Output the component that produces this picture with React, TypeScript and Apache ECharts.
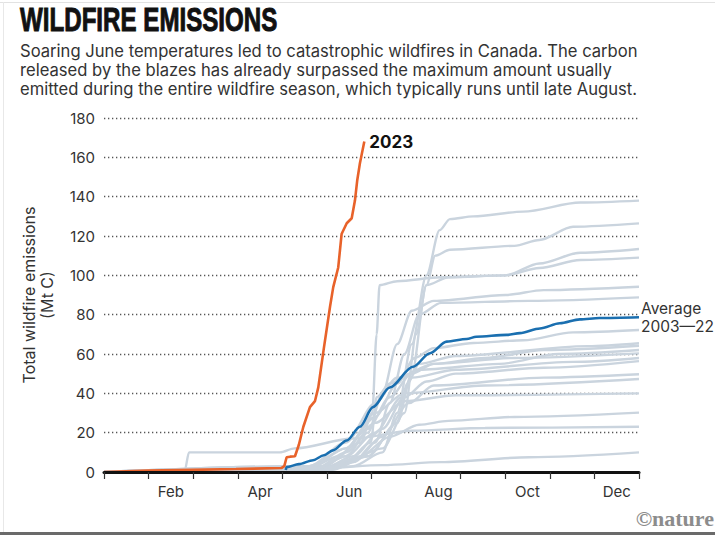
import React, { useEffect, useRef } from "react";
import * as echarts from "echarts";

const months = ["Jan", "Feb", "Mar", "Apr", "May", "Jun", "Jul", "Aug", "Sep", "Oct", "Nov", "Dec"];
const yTicks = { min: 0, max: 180, interval: 20 };

// [day of year, cumulative Mt C]
const year2023: number[][] = [
  [0, 0], [30, 0.7], [60, 1.1], [90, 1.5], [121, 2], [123, 3], [124.6, 7.5], [127, 7.8], [130.3, 8],
  [133, 14], [136, 23], [140.5, 33], [143.9, 36], [146.2, 43], [150, 63], [154.2, 84], [156.4, 94],
  [159.8, 104], [162.1, 121], [165.6, 126.5], [169, 129], [171.2, 138], [172.8, 148.5], [174.6, 157], [177.6, 168],
];

const average: number[][] = [
  [124, 1], [124.6, 2.5], [133, 4], [142.6, 6], [150, 8.5], [156.2, 11], [165.6, 16], [174.6, 23],
  [183.5, 33], [195, 43], [210.8, 53.5], [222.4, 60.4], [233.8, 66.3], [247.4, 67.6], [254, 68.8],
  [274.7, 69.7], [283.8, 70.6], [297.4, 73], [311, 75.6], [324.7, 77.6], [338, 78.3], [365, 78.7],
];

const yearA: number[][] = [[0, 0], [140, 0.5], [170, 3], [190, 10], [200, 30], [210, 65], [220, 100], [229, 123], [236, 128.6], [252, 130], [286, 132.4], [325, 137], [365, 138]];
const yearB: number[][] = [[0, 0], [150, 2], [180, 8], [200, 25], [210, 50], [220, 95], [226, 110], [236, 113], [280, 115], [297, 118], [320, 124.7], [365, 126.4]];
const yearC: number[][] = [[0, 0], [150, 3], [175, 15], [183, 30], [186, 70], [188, 95], [200, 97], [230, 99], [274, 100], [297, 106], [325, 111.5], [365, 113.4]];
const yearD: number[][] = [[0, 0], [160, 3], [190, 12], [205, 30], [213, 70], [220, 95], [235, 99], [274, 100], [297, 103.7], [325, 107.8], [365, 109]];
const yearE: number[][] = [[0, 0], [145, 2], [165, 8], [180, 20], [190, 40], [200, 65], [210, 82], [225, 87], [274, 90], [300, 92.5], [365, 94.2]];
const yearF: number[][] = [[0, 0], [150, 1], [170, 5], [185, 15], [195, 35], [205, 60], [215, 80], [230, 86], [290, 87], [365, 88.8]];
const yearG: number[][] = [[0, 0], [140, 3], [165, 12], [185, 28], [200, 45], [212, 58], [225, 63], [252, 65.6], [286, 67], [320, 71], [365, 72.2]];
const yearH: number[][] = [[0, 0], [140, 2], [160, 8], [180, 22], [195, 38], [210, 50], [225, 55], [260, 58], [300, 62], [365, 64.2]];
const yearI: number[][] = [[0, 0], [145, 1], [165, 5], [182, 15], [186, 38], [195, 45], [215, 52], [270, 55], [310, 60], [365, 62]];
const yearJ: number[][] = [[0, 0], [140, 3], [165, 15], [185, 35], [200, 48], [225, 55], [280, 58], [365, 60.3]];
const yearK: number[][] = [[0, 0], [150, 2], [170, 8], [190, 22], [205, 38], [220, 46], [240, 50], [300, 53], [365, 56.4]];
const yearL: number[][] = [[0, 0], [145, 1], [170, 5], [190, 18], [208, 35], [225, 44], [300, 48], [365, 49.7]];
const yearM: number[][] = [[0, 0], [140, 2], [165, 12], [185, 30], [205, 40], [260, 44], [365, 47.3]];
const yearN: number[][] = [[0, 0], [145, 2], [165, 10], [185, 25], [205, 36], [240, 39], [365, 40]];
const yearO: number[][] = [[0, 0], [150, 2], [175, 8], [195, 18], [215, 24], [235, 26], [280, 28], [365, 30.2]];
const yearP: number[][] = [[0, 0], [55, 0.5], [58, 10], [120, 10], [130, 12], [170, 17], [210, 21], [260, 22.4], [365, 23]];
const yearQ: number[][] = [[0, 0], [130, 0.5], [150, 2], [190, 3.5], [230, 5], [290, 7.5], [365, 10]];
const yearR: number[][] = [[0, 0], [155, 1], [180, 8], [200, 25], [207, 45], [215, 55], [240, 59], [330, 64], [365, 65.5]];
const yearS: number[][] = [[0, 0], [145, 2], [165, 8], [185, 20], [203, 38], [210, 48], [240, 52], [320, 56], [365, 58]];

const pastYears = [yearA, yearB, yearC, yearD, yearE, yearF, yearG, yearH, yearI, yearJ, yearK, yearL, yearM, yearN, yearO, yearP, yearQ, yearR, yearS];

const titleText = "WILDFIRE EMISSIONS";
const subtitleLines = [
  "Soaring June temperatures led to catastrophic wildfires in Canada. The carbon",
  "released by the blazes has already surpassed the maximum amount usually",
  "emitted during the entire wildfire season, which typically runs until late August.",
];
const yAxisTitle = "Total wildfire emissions\n(Mt C)";
const label2023 = "2023";
const labelAverage = "Average\n2003\u201422";

const FONT = "Inter, 'Liberation Sans', Arial, sans-serif";

export default function App() {
  const ref = useRef<HTMLDivElement>(null);
  useEffect(() => {
    if (!ref.current) return;
    const chart = echarts.init(ref.current, null, { renderer: "svg" });
    const greySeries = pastYears.map((d, i) => ({
      name: "y" + i,
      type: "line",
      xAxisIndex: 1,
      data: d,
      symbol: "none",
      smooth: 0.3,
      smoothMonotone: "x",
      silent: true,
      z: 2,
      lineStyle: { color: "#cad4de", width: 2.4 },
    }));
    chart.setOption({
      animation: false,
      backgroundColor: "#ffffff",
      textStyle: { fontFamily: FONT },
      grid: { left: 104, right: 76, top: 118, bottom: 63, containLabel: false },
      xAxis: [
        {
          type: "category",
          data: months,
          boundaryGap: true,
          axisLine: { show: true, lineStyle: { color: "#111", width: 3 } },
          axisTick: { show: true, interval: 0, length: 7, lineStyle: { color: "#333", width: 1.2 } },
          axisLabel: {
            interval: (i: number) => i % 2 === 1,
            color: "#333",
            fontSize: 15,
            margin: 12,
            fontFamily: FONT,
          },
          splitLine: { show: false },
          z: 5,
        },
        { type: "value", min: 0, max: 365, show: false },
      ],
      yAxis: {
        type: "value",
        min: yTicks.min,
        max: yTicks.max,
        interval: yTicks.interval,
        name: yAxisTitle,
        nameLocation: "middle",
        nameGap: 48,
        nameRotate: 90,
        nameTextStyle: { color: "#333", fontSize: 16, lineHeight: 18, fontFamily: FONT },
        axisLine: { show: false },
        axisTick: { show: false },
        axisLabel: { color: "#333", fontSize: 15, margin: 9, fontFamily: FONT },
        splitLine: { show: true, lineStyle: { color: "#555", width: 1.3, type: [1.3, 2.7] } },
      },
      series: [
        ...greySeries,
        {
          name: "Average",
          type: "line",
          xAxisIndex: 1,
          data: average,
          symbol: "none",
          smooth: 0.3,
          smoothMonotone: "x",
          z: 3,
          lineStyle: { color: "#1a6fb0", width: 2.6 },
          endLabel: {
            show: true,
            formatter: labelAverage,
            color: "#333",
            fontSize: 15.5,
            lineHeight: 18,
            distance: 2,
            fontFamily: FONT,
          },
        },
        {
          name: "2023",
          type: "line",
          xAxisIndex: 1,
          data: year2023,
          symbol: "none",
          smooth: false,
          z: 4,
          lineStyle: { color: "#e8622a", width: 2.6 },
          endLabel: {
            show: true,
            formatter: label2023,
            color: "#111",
            fontWeight: "bold",
            fontSize: 17,
            distance: 5,
            fontFamily: FONT,
          },
        },
      ],
      graphic: [
        { type: "rect", shape: { x: 0, y: 2, width: 715, height: 1 }, style: { fill: "#e2e2e2" }, silent: true },
        { type: "rect", shape: { x: 3, y: 2, width: 1, height: 530 }, style: { fill: "#e8e8e8" }, silent: true },
        { type: "rect", shape: { x: 0, y: 532, width: 715, height: 3 }, style: { fill: "#6a6a6a" }, silent: true },
        {
          type: "text",
          x: 20,
          y: 36,
          scaleX: 0.71,
          style: {
            text: titleText,
            fill: "#111",
            stroke: "#111",
            lineWidth: 1,
            font: "bold 34px 'Liberation Sans', Arial, sans-serif",
            textVerticalAlign: "bottom",
          },
          silent: true,
        },
        {
          type: "text",
          x: 20,
          y: 41,
          style: {
            text: subtitleLines.join("\n"),
            fill: "#333",
            font: "16.6px Inter, 'Liberation Sans', Arial, sans-serif",
            lineHeight: 19,
            textVerticalAlign: "top",
          },
          silent: true,
        },
        {
          type: "text",
          x: 714,
          y: 529,
          style: {
            text: "\u00a9nature",
            fill: "#8c8c8c",
            font: "bold 22px 'Liberation Serif', 'DejaVu Serif', serif",
            textAlign: "right",
            textVerticalAlign: "bottom",
          },
          silent: true,
        },
      ],
    });
    return () => chart.dispose();
  }, []);
  return (
    <div
      ref={ref}
      style={{ position: "fixed", left: 0, top: 0, width: 715, height: 535, background: "#fff" }}
    />
  );
}
